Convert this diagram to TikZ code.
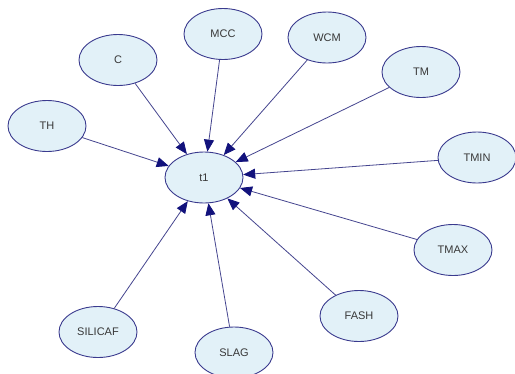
\documentclass[tikz,border=0pt]{standalone}
\usepackage{fontspec}
\setmainfont{Liberation Sans}
\usetikzlibrary{shapes.geometric,arrows.meta}
\definecolor{nodefill}{HTML}{E2F1F8}
\definecolor{nodeline}{HTML}{3A3A8E}
\definecolor{edgeline}{HTML}{45458F}
\definecolor{tipcol}{HTML}{12127C}
\definecolor{labelcol}{HTML}{383838}
\begin{document}
\begin{tikzpicture}[x=1pt,y=-1pt,
  var/.style={ellipse,draw=nodeline,fill=nodefill,line width=0.9pt,
    minimum width=78pt,minimum height=51pt,inner sep=0pt,
    text=labelcol,font=\fontsize{11}{13}\selectfont},
  link/.style={draw=edgeline,line width=0.8pt,
    -{Triangle[length=12pt,width=10pt,fill=tipcol,color=tipcol]}}]
\useasboundingbox (0,0) rectangle (515,373);
\fill[white] (0,0) rectangle (515,373);
% central variable
\node[var] (t1) at (204,177.5) {t1};
% parent variables
\node[var] (TH) at (47,126) {TH};
\node[var] (C) at (118,60) {C};
\node[var] (MCC) at (223,34) {MCC};
\node[var] (WCM) at (327,37.5) {WCM};
\node[var] (TM) at (421,72) {TM};
\node[var] (TMIN) at (477,157.5) {TMIN};
\node[var] (TMAX) at (453,250) {TMAX};
\node[var] (FASH) at (359,316) {FASH};
\node[var] (SLAG) at (234,352.5) {SLAG};
\node[var] (SILICAF) at (98,332) {SILICAF};
% arcs into t1
\foreach \p in {TH,C,MCC,WCM,TM,TMIN,TMAX,FASH,SLAG,SILICAF}
  \draw[link] (\p) -- (t1);
\end{tikzpicture}
\end{document}
